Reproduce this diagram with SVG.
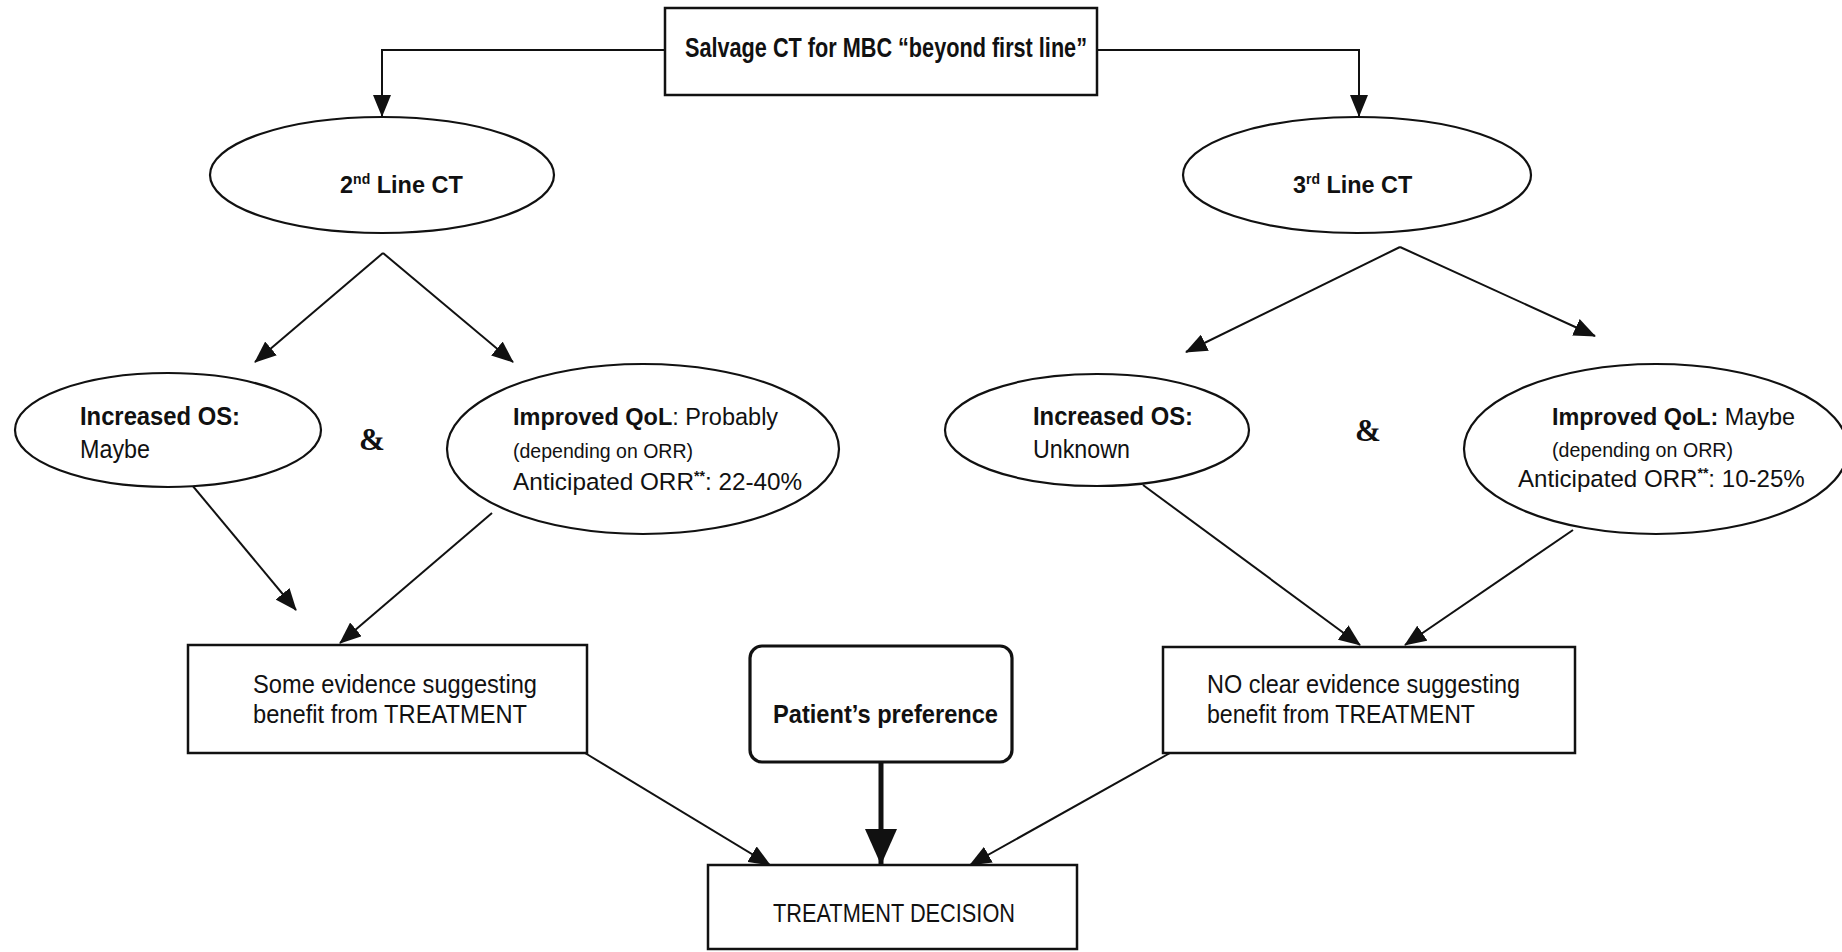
<svg xmlns="http://www.w3.org/2000/svg" width="1842" height="952" viewBox="0 0 1842 952">
<defs>
<style>
.box{fill:#fff;stroke:#111;stroke-width:2.5}
.ell{fill:#fff;stroke:#111;stroke-width:2.2}
.t{font-family:"Liberation Sans",Arial,sans-serif;font-size:26px;fill:#111}
.b{font-weight:bold}
.s{font-size:21px}
.sup{font-size:15px}
.amp{font-family:"Liberation Serif","Times New Roman",serif;font-weight:bold;font-size:31px;fill:#111}
.c{fill:none;stroke:#111;stroke-width:2}
</style>
<marker id="ah" markerUnits="userSpaceOnUse" markerWidth="22" markerHeight="18" refX="21" refY="9" orient="auto">
<path d="M0,0 L22,9 L0,18 z" fill="#111"/>
</marker>
<marker id="big" markerUnits="userSpaceOnUse" markerWidth="36" markerHeight="32" refX="36" refY="16" orient="auto">
<path d="M0,0 L36,16 L0,32 z" fill="#111"/>
</marker>
</defs>
<rect width="1842" height="952" fill="#fff"/>

<g id="connectors">
<polyline class="c" points="665,50 382,50 382,116" marker-end="url(#ah)"/>
<polyline class="c" points="1097,50 1359,50 1359,116" marker-end="url(#ah)"/>
<line class="c" x1="383" y1="253" x2="255" y2="362" marker-end="url(#ah)"/>
<line class="c" x1="383" y1="253" x2="513" y2="362" marker-end="url(#ah)"/>
<line class="c" x1="1400" y1="247" x2="1186" y2="352" marker-end="url(#ah)"/>
<line class="c" x1="1400" y1="247" x2="1595" y2="336" marker-end="url(#ah)"/>
<line class="c" x1="167" y1="455" x2="296" y2="610" marker-end="url(#ah)"/>
<line class="c" x1="492" y1="513" x2="340" y2="643" marker-end="url(#ah)"/>
<line class="c" x1="1143" y1="485" x2="1360" y2="645" marker-end="url(#ah)"/>
<line class="c" x1="1573" y1="530" x2="1405" y2="645" marker-end="url(#ah)"/>
<line class="c" x1="585" y1="753" x2="770" y2="865" marker-end="url(#ah)"/>
<line class="c" x1="1170" y1="753" x2="970" y2="865" marker-end="url(#ah)"/>
<line fill="none" stroke="#111" stroke-width="5" x1="881" y1="762" x2="881" y2="865" marker-end="url(#big)"/>
</g>

<g id="n-top">
<rect class="box" x="665" y="8" width="432" height="87"/>
<text class="t b" x="685" y="57" style="font-size:27px" textLength="402" lengthAdjust="spacingAndGlyphs">Salvage CT for MBC “beyond first line”</text>
</g>

<g id="n-2nd">
<ellipse class="ell" cx="382" cy="175" rx="172" ry="58"/>
<text class="t b" x="340" y="193" style="font-size:23.5px">2<tspan style="font-size:14px" dy="-9">nd</tspan><tspan dy="9"> Line CT</tspan></text>
</g>

<g id="n-3rd">
<ellipse class="ell" cx="1357" cy="175" rx="174" ry="58"/>
<text class="t b" x="1293" y="193" style="font-size:23.4px">3<tspan style="font-size:14px" dy="-9">rd</tspan><tspan dy="9"> Line CT</tspan></text>
</g>

<g id="n-os-left">
<ellipse class="ell" cx="168" cy="430" rx="153" ry="57"/>
<text class="t b" x="80" y="425" textLength="160" lengthAdjust="spacingAndGlyphs">Increased OS:</text>
<text class="t" x="80" y="458" textLength="70" lengthAdjust="spacingAndGlyphs">Maybe</text>
</g>

<g id="amp-left"><text class="amp" x="372" y="450" text-anchor="middle">&amp;</text></g>

<g id="n-qol-left">
<ellipse class="ell" cx="643" cy="449" rx="196" ry="85"/>
<text class="t" x="513" y="425" style="font-size:23.5px"><tspan class="b">Improved QoL</tspan>: Probably</text>
<text class="t s" x="513" y="458" textLength="180" lengthAdjust="spacingAndGlyphs">(depending on ORR)</text>
<text class="t" x="513" y="490" style="font-size:24.3px">Anticipated ORR<tspan class="b" style="font-size:14px" dy="-9">**</tspan><tspan dy="9">: 22-40%</tspan></text>
</g>

<g id="n-os-right">
<ellipse class="ell" cx="1097" cy="430" rx="152" ry="56"/>
<text class="t b" x="1033" y="425" textLength="160" lengthAdjust="spacingAndGlyphs">Increased OS:</text>
<text class="t" x="1033" y="458" textLength="97" lengthAdjust="spacingAndGlyphs">Unknown</text>
</g>

<g id="amp-right"><text class="amp" x="1368" y="441" text-anchor="middle">&amp;</text></g>

<g id="n-qol-right">
<ellipse class="ell" cx="1656" cy="449" rx="192" ry="85"/>
<text class="t" x="1552" y="425" style="font-size:23.4px"><tspan class="b">Improved QoL:</tspan> Maybe</text>
<text class="t s" x="1552" y="457" textLength="181" lengthAdjust="spacingAndGlyphs">(depending on ORR)</text>
<text class="t" x="1518" y="487" style="font-size:24.1px">Anticipated ORR<tspan class="b" style="font-size:14px" dy="-9">**</tspan><tspan dy="9">: 10-25%</tspan></text>
</g>

<g id="n-some">
<rect class="box" x="188" y="645" width="399" height="108"/>
<text class="t" x="253" y="693" textLength="284" lengthAdjust="spacingAndGlyphs">Some evidence suggesting</text>
<text class="t" x="253" y="723" textLength="274" lengthAdjust="spacingAndGlyphs">benefit from TREATMENT</text>
</g>

<g id="n-patient">
<rect class="box" x="750" y="646" width="262" height="116" rx="12" style="stroke-width:3.2"/>
<text class="t b" x="773" y="723" textLength="225" lengthAdjust="spacingAndGlyphs">Patient’s preference</text>
</g>

<g id="n-noclear">
<rect class="box" x="1163" y="647" width="412" height="106"/>
<text class="t" x="1207" y="693" textLength="313" lengthAdjust="spacingAndGlyphs">NO clear evidence suggesting</text>
<text class="t" x="1207" y="723" textLength="268" lengthAdjust="spacingAndGlyphs">benefit from TREATMENT</text>
</g>

<g id="n-decision">
<rect class="box" x="708" y="865" width="369" height="84"/>
<text class="t" x="773" y="922" textLength="242" lengthAdjust="spacingAndGlyphs">TREATMENT DECISION</text>
</g>
</svg>
